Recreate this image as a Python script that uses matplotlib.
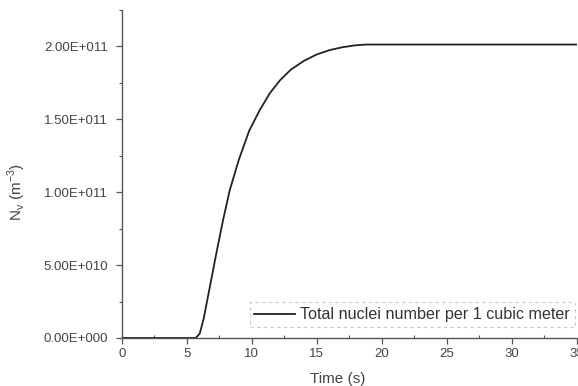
import numpy as np
import matplotlib
matplotlib.use("Agg")
import matplotlib.pyplot as plt
from matplotlib.ticker import MultipleLocator

# values (time in s, Nv in 1e11 m^-3)
time_s = [0, 5.7, 6.0, 6.3, 6.8, 7.3, 7.8, 8.3, 9.0, 9.8, 10.6, 11.4, 12.2,
          13.0, 14.0, 15.0, 16.0, 17.0, 18.0, 18.8, 20.0, 35.0]
nv_e11 = [0, 0, 0.03, 0.13, 0.36, 0.59, 0.81, 1.01, 1.22, 1.42, 1.56, 1.68,
          1.77, 1.84, 1.90, 1.945, 1.975, 1.995, 2.008, 2.013, 2.013, 2.013]
y_ticks = [0, 0.5e11, 1.0e11, 1.5e11, 2.0e11]
y_tick_labels = ["0.00E+000", "5.00E+010", "1.00E+011", "1.50E+011", "2.00E+011"]
legend_label = "Total nuclei number per 1 cubic meter"

plt.rcParams['font.family'] = ['Liberation Sans', 'DejaVu Sans']

fig = plt.figure(figsize=(5.78, 3.86), dpi=100)
ax = fig.add_axes([0.2106, 0.1244, 0.787, 0.8497])

nv = np.array(nv_e11) * 1e11
ax.plot(time_s, nv, color='#222222', lw=1.3, label=legend_label)

ax.set_xlim(0, 35)
ax.set_ylim(0, 2.25e11)
ax.xaxis.set_major_locator(MultipleLocator(5))
ax.xaxis.set_minor_locator(MultipleLocator(2.5))
ax.set_yticks(y_ticks)
ax.set_yticklabels(y_tick_labels)
ax.yaxis.set_minor_locator(MultipleLocator(0.25e11))

for s in ['top', 'right']:
    ax.spines[s].set_visible(False)
for s in ['left', 'bottom']:
    ax.spines[s].set_color('#555555')
    ax.spines[s].set_linewidth(1.0)

ax.tick_params(which='major', direction='out', length=4, width=0.9,
               color='#555555', labelsize=9.5, labelcolor='#444444', pad=3)
ax.tick_params(axis='y', which='major', pad=6)
ax.tick_params(which='minor', direction='out', length=2.5, width=0.8,
               color='#555555')
ax.tick_params(axis='x', which='minor', direction='in')

ax.set_xlabel("Time (s)", fontsize=11, color='#444444')
ax.set_ylabel(r"N$_\mathregular{v}$ (m$^\mathregular{-3}$)", fontsize=11, color='#444444')
ax.xaxis.set_label_coords(0.475, -0.105)
ax.yaxis.set_label_coords(-0.205, 0.445)

leg = ax.legend(loc='lower right', bbox_to_anchor=(0.9963, 0.0335), fontsize=11.6,
                handlelength=2.5, handletextpad=0.35, borderpad=0.3,
                borderaxespad=0.0, fancybox=False, frameon=True,
                labelcolor='#333333')
leg.get_frame().set_edgecolor('#bbbbbb')
leg.get_frame().set_linestyle((0, (3, 3)))
leg.get_frame().set_linewidth(0.8)

fig.savefig("out.png", dpi=100)
